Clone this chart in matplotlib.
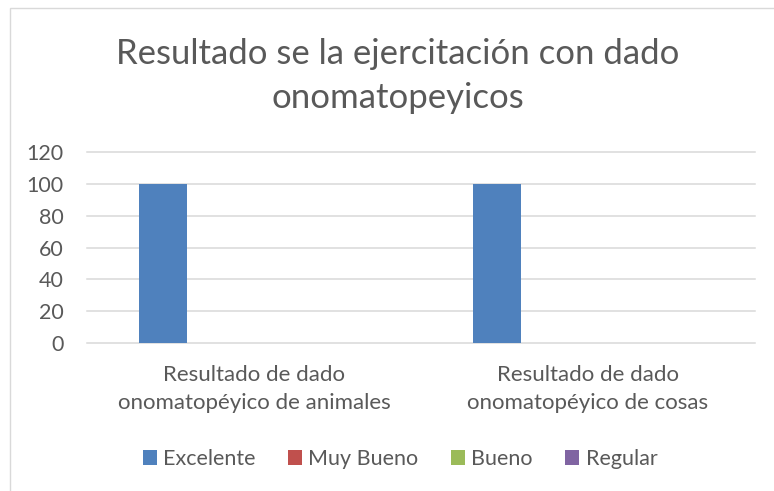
import matplotlib.pyplot as plt
import numpy as np
from matplotlib.patches import Rectangle

categories = ["Resultado de dado\nonomatopéyico de animales",
              "Resultado de dado\nonomatopéyico de cosas"]
series = ["Excelente", "Muy Bueno", "Bueno", "Regular"]
values = {
    "Excelente": [100, 100],
    "Muy Bueno": [0, 0],
    "Bueno": [0, 0],
    "Regular": [0, 0],
}
yticks = [0, 20, 40, 60, 80, 100, 120]
title = "Resultado se la ejercitación con dado\nonomatopeyicos"

colours = ["#4F81BD", "#C0504D", "#9BBB59", "#8064A2"]
text_col = "#595959"

plt.rcParams['font.family'] = ["Lato", "DejaVu Sans"]

fig = plt.figure(figsize=(7.74, 4.91), dpi=100)
W, H = 774.0, 491.0

# chart border (only top and left visible in the crop)
fig.patches.append(Rectangle((10 / W, 0.0 - 0.1), 1.2, 1 - 8 / H + 0.1,
                             transform=fig.transFigure, fill=False,
                             edgecolor="#D9D9D9", linewidth=1.0))

ax = fig.add_axes([87 / W, 1 - 343 / H, (755 - 87) / W, (343 - 152) / H])

x = np.arange(len(categories))
width = 0.144
step = 0.181
for i, name in enumerate(series):
    ax.bar(x + (i - 1.5) * step, values[name], width, color=colours[i],
           linewidth=0, label=name, zorder=3)

ax.set_xlim(-0.5, len(categories) - 0.5)
ax.set_ylim(0, 120)
ax.set_yticks(yticks)
ax.set_xticks(x)
ax.set_xticklabels(categories, linespacing=1.55)
ax.tick_params(axis="both", length=0, labelsize=15.5, colors=text_col)
ax.tick_params(axis="y", pad=17)
ax.tick_params(axis="x", labelsize=16, pad=15.5)
for s in ax.spines.values():
    s.set_visible(False)
ax.yaxis.grid(True, color="#D9D9D9", linewidth=1.1, zorder=0)
for gl in ax.get_ygridlines():
    gl.set_clip_on(False)
ax.set_axisbelow(True)

fig.text(398 / W, 1 - 76 / H, title, ha="center", va="center",
         fontsize=25, color=text_col, linespacing=1.45)

fig.legend(loc="center", bbox_to_anchor=(400 / W, 1 - 459 / H), ncol=4,
           frameon=False, fontsize=15.5, handlelength=0.65, handleheight=0.65,
           handletextpad=0.3, columnspacing=1.5, labelcolor=text_col)

fig.savefig("out.png", dpi=100)
